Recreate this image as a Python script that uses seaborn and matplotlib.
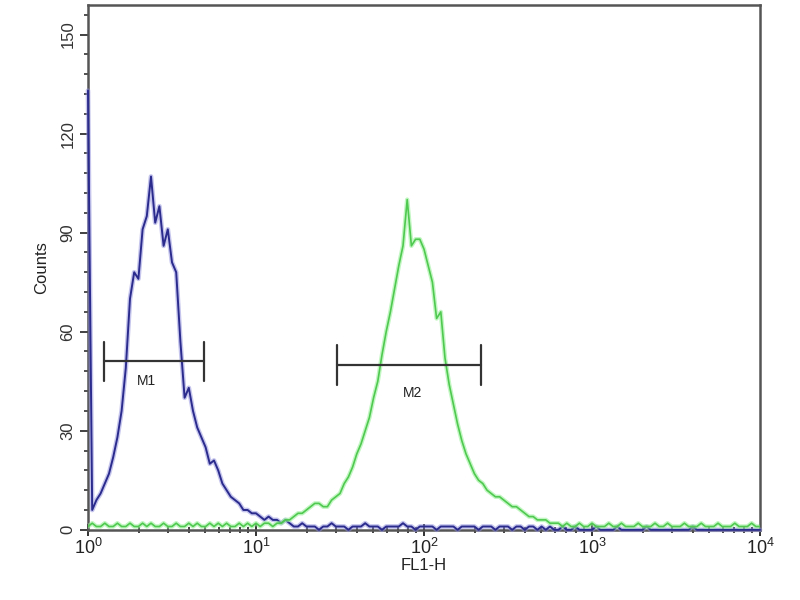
import numpy as np
import pandas as pd
import matplotlib
matplotlib.use("Agg")
import matplotlib.pyplot as plt
import matplotlib.ticker as mticker
import seaborn as sns

# Channel grid: 161 channels over 4 log decades (10^0 .. 10^4)
channel_log = np.arange(161) * 0.025

# Counts, one per channel
blue_counts = [
    133, 6, 9, 11, 14, 17, 22, 28, 36, 49,
    70, 78, 76, 91, 95, 107, 93, 98, 86, 91,
    81, 78, 57, 40, 43, 36, 31, 28, 25, 20,
    21, 18, 14, 12, 10, 9, 8, 6, 6, 5,
    5, 4, 3, 4, 3, 3, 2, 3, 2, 1,
    1, 2, 1, 1, 1, 0, 1, 1, 2, 1,
    1, 1, 0, 1, 1, 1, 2, 1, 1, 1,
    0, 1, 1, 1, 1, 2, 1, 1, 0, 1,
    1, 1, 1, 0, 1, 1, 1, 1, 0, 1,
    1, 1, 1, 0, 1, 1, 1, 0, 1, 1,
    1, 0, 1, 1, 0, 1, 1, 0, 1, 0,
    1, 0, 0, 1, 0, 0, 1, 0, 0, 0,
    0, 1, 0, 0, 0, 0, 1, 0, 0, 0,
    0, 0, 0, 1, 0, 0, 0, 0, 0, 0,
    0, 0, 0, 0, 1, 0, 0, 0, 0, 0,
    0, 0, 0, 0, 0, 0, 0, 0, 0, 0, 0,
]
green_counts = [
    1, 2, 1, 1, 2, 1, 1, 2, 1, 1,
    2, 1, 1, 2, 1, 2, 1, 1, 2, 1,
    1, 2, 1, 1, 2, 1, 2, 1, 1, 2,
    1, 2, 1, 2, 1, 1, 2, 1, 2, 1,
    2, 1, 2, 2, 1, 2, 2, 3, 3, 4,
    5, 5, 6, 7, 8, 8, 7, 7, 9, 10,
    11, 14, 16, 19, 23, 26, 30, 34, 40, 45,
    53, 60, 66, 73, 80, 86, 100, 86, 88, 88,
    85, 80, 75, 64, 66, 52, 44, 38, 32, 27,
    23, 20, 17, 15, 14, 12, 11, 10, 10, 9,
    8, 7, 7, 6, 5, 4, 4, 3, 3, 3,
    2, 2, 2, 1, 2, 1, 1, 2, 1, 1,
    2, 1, 1, 1, 2, 1, 1, 2, 1, 1,
    1, 2, 1, 1, 1, 2, 1, 1, 2, 1,
    1, 1, 2, 1, 1, 1, 2, 1, 1, 1,
    2, 1, 1, 1, 2, 1, 1, 1, 2, 1, 1,
]

# Marker gates
gate_names = ["M1", "M2"]
gate_start = [1.25, 30.3]
gate_end = [4.9, 217]
gate_level = [51, 50]
label_x = [2.24, 86]
label_y = [45, 41.5]

df = pd.DataFrame({
    "FL1-H": 10 ** channel_log,
    "blue": blue_counts,
    "green": green_counts,
})

sns.set_theme(style="white")
plt.rcParams["font.family"] = ["Liberation Sans", "DejaVu Sans"]

fig = plt.figure(figsize=(8, 6), dpi=100)
ax = fig.add_axes([0.11, 0.117, 0.84, 0.875])

# soft halo then core line, to mimic the blurry scan
sns.lineplot(data=df, x="FL1-H", y="blue", ax=ax, color="#8c8cdc", lw=3.4, alpha=0.5,
             zorder=3, clip_on=False)
sns.lineplot(data=df, x="FL1-H", y="blue", ax=ax, color="#2b2b8e", lw=1.4,
             zorder=4, clip_on=False)
sns.lineplot(data=df, x="FL1-H", y="green", ax=ax, color="#9af09a", lw=3.2, alpha=0.6, zorder=5)
sns.lineplot(data=df, x="FL1-H", y="green", ax=ax, color="#4fc94f", lw=1.2, zorder=6)

for name, x0, x1, lv, lx, ly in zip(gate_names, gate_start, gate_end, gate_level, label_x, label_y):
    ax.plot([x0, x1], [lv, lv], color="#333333", lw=1.6, zorder=7)
    ax.plot([x0, x0], [lv - 6, lv + 6], color="#333333", lw=1.6, zorder=7)
    ax.plot([x1, x1], [lv - 6, lv + 6], color="#333333", lw=1.6, zorder=7)
    ax.text(lx, ly, name, ha="center", va="center", fontsize=10, color="#222222")

ax.set_xscale("log")
ax.set_xlim(1, 1e4)
ax.set_ylim(0, 159)

ax.xaxis.set_major_locator(mticker.LogLocator(base=10, numticks=10))
ax.xaxis.set_major_formatter(mticker.LogFormatterMathtext())
ax.xaxis.set_minor_locator(mticker.LogLocator(base=10, subs=np.arange(2, 10), numticks=50))
ax.xaxis.set_minor_formatter(mticker.NullFormatter())
ax.yaxis.set_major_locator(mticker.MultipleLocator(30))
ax.yaxis.set_minor_locator(mticker.MultipleLocator(6))

ax.tick_params(axis="x", which="major", direction="inout", length=8, width=1.3,
               colors="#222222", labelsize=13, pad=2)
ax.tick_params(axis="x", which="minor", direction="inout", length=5, width=1.2, colors="#222222")
ax.tick_params(axis="y", which="major", direction="out", length=6, width=1.3,
               colors="#333333", labelsize=12, pad=3)
ax.tick_params(axis="y", which="minor", direction="out", length=3, width=1.2, colors="#333333")
ax.tick_params(axis="x", which="both", bottom=True)
ax.tick_params(axis="y", which="both", left=True)
for lab in ax.get_yticklabels():
    lab.set_rotation(90)
    lab.set_va("center")

for s in ax.spines.values():
    s.set_color("#555555")
    s.set_linewidth(1.8)
    s.set_visible(True)

ax.set_xlabel("FL1-H", fontsize=12, color="#222222", labelpad=0)
ax.set_ylabel("Counts", fontsize=12, color="#222222", labelpad=8)

fig.savefig("out.png", dpi=100)
